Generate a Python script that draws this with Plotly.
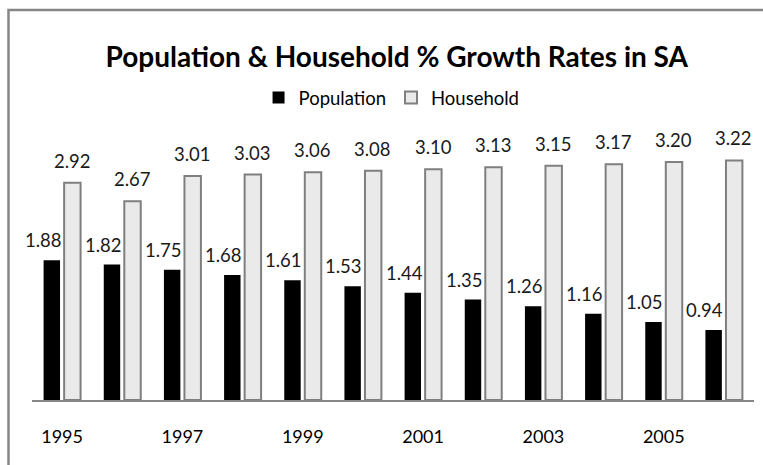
import plotly.graph_objects as go

years = list(range(1995, 2007))
population = [1.88, 1.82, 1.75, 1.68, 1.61, 1.53, 1.44, 1.35, 1.26, 1.16, 1.05, 0.94]
household = [2.92, 2.67, 3.01, 3.03, 3.06, 3.08, 3.10, 3.13, 3.15, 3.17, 3.20, 3.22]
tick_years = list(range(1995, 2007, 2))

FONT = "Lato, 'Open Sans', sans-serif"
W, H = 763, 465
L, R, T, B = 32, 9, 140, 65
plot_w = W - L - R
plot_h = H - T - B

fig = go.Figure()
fig.add_trace(go.Bar(
    name="Population", x=years, y=population,
    marker=dict(color="#000000", line=dict(width=0)),
))
fig.add_trace(go.Bar(
    name="Household", x=years, y=household,
    marker=dict(color="#EAEAEA", line=dict(color="#7F7F7F", width=2)),
))

# value labels above each bar
annotations = []
for yr, v in zip(years, population):
    annotations.append(dict(
        x=yr, y=v, xref="x", yref="y", text=f"{v:.2f}", showarrow=False,
        xanchor="center", yanchor="bottom", xshift=-19, yshift=7,
        font=dict(family=FONT, size=18.5, color="#1a1a1a"),
    ))
for yr, v in zip(years, household):
    annotations.append(dict(
        x=yr, y=v, xref="x", yref="y", text=f"{v:.2f}", showarrow=False,
        xanchor="center", yanchor="bottom", xshift=10, yshift=9,
        font=dict(family=FONT, size=18.5, color="#1a1a1a"),
    ))

# outer chart frame
def px_x(p):
    return (p - L) / plot_w

def px_y(p):
    return (H - B - p) / plot_h

shapes = [dict(
    type="rect", xref="paper", yref="paper",
    x0=px_x(8.5), x1=px_x(W + 20), y0=px_y(H + 20), y1=px_y(10),
    line=dict(color="#878787", width=2.5), fillcolor="rgba(0,0,0,0)", layer="below",
)]

fig.update_layout(
    width=W, height=H,
    margin=dict(l=L, r=R, t=T, b=B),
    paper_bgcolor="white", plot_bgcolor="white",
    barmode="group", bargap=0.317, bargroupgap=0.2,
    title=dict(
        text="<b>Population & Household % Growth Rates in SA</b>",
        x=0.52, xanchor="center", y=1 - 57 / H, yanchor="middle",
        font=dict(family=FONT, size=28, color="#000000"),
    ),
    legend=dict(
        orientation="h", x=0.498, xanchor="center", y=px_y(98), yanchor="middle",
        font=dict(family=FONT, size=18.5, color="#000000"),
        itemwidth=30, tracegroupgap=0, bgcolor="rgba(0,0,0,0)",
    ),
    xaxis=dict(
        type="linear", range=[1994.5, 2006.5], showgrid=False, zeroline=False,
        showline=True, linecolor="#868686", linewidth=2,
        tickmode="array", tickvals=tick_years, ticktext=[str(t) for t in tick_years],
        ticks="outside", ticklen=19, tickcolor="rgba(0,0,0,0)",
        tickfont=dict(family=FONT, size=18, color="#000000"),
    ),
    yaxis=dict(
        range=[0, plot_h / 74.4], visible=False, showgrid=False, zeroline=False,
    ),
    annotations=annotations,
    shapes=shapes,
    showlegend=True,
)

fig.write_html("out.html")
